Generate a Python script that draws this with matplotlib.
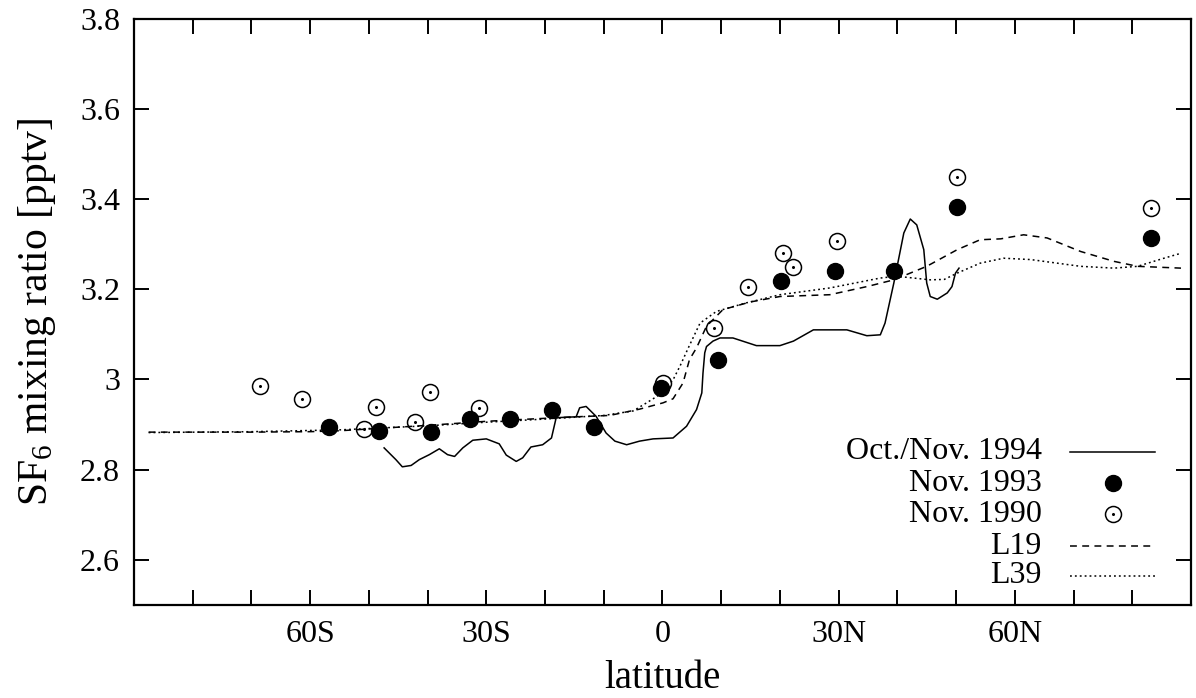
import matplotlib
matplotlib.use("Agg")
import matplotlib.pyplot as plt
from matplotlib.lines import Line2D

plt.rcParams['font.family'] = ['Liberation Serif', 'DejaVu Serif']
plt.rcParams['mathtext.default'] = 'regular'

# ---- data ----
obs94_lat = [-47.4, -45.4, -44.3, -42.8, -41.4, -39.7, -38.0, -36.6, -35.4, -34.0, -32.3, -30.0,
             -27.8, -26.6, -24.9, -23.8, -22.4, -20.4, -18.9, -18.1, -14.7, -14.1, -13.0, -11.3,
             -9.6, -8.1, -6.1, -3.9, -1.6, 1.8, 4.1, 5.8, 6.7, 6.9, 7.2, 7.5, 8.6, 9.8, 12.0,
             16.0, 20.0, 22.3, 25.7, 31.4, 34.8, 37.1, 37.9, 39.4, 41.1, 42.2, 43.3, 44.5, 45.0,
             45.6, 46.8, 48.5, 49.3, 49.9, 50.5]
obs94_val = [2.848, 2.822, 2.806, 2.809, 2.822, 2.833, 2.846, 2.833, 2.829, 2.848, 2.865, 2.868,
             2.857, 2.832, 2.818, 2.826, 2.850, 2.855, 2.870, 2.915, 2.917, 2.937, 2.940, 2.918,
             2.881, 2.863, 2.855, 2.863, 2.868, 2.870, 2.896, 2.933, 2.970, 3.014, 3.059, 3.073,
             3.085, 3.092, 3.092, 3.075, 3.075, 3.085, 3.110, 3.110, 3.097, 3.099, 3.125, 3.214,
             3.325, 3.356, 3.343, 3.288, 3.214, 3.184, 3.178, 3.192, 3.206, 3.236, 3.247]

obs93_lat = [-56.8, -48.2, -39.5, -32.8, -25.9, -18.8, -11.7, -0.2, 9.4, 20.2, 29.3, 39.5, 50.2, 83.2]
obs93_val = [2.895, 2.885, 2.884, 2.912, 2.912, 2.931, 2.895, 2.981, 3.042, 3.218, 3.241, 3.241, 3.382, 3.314]

obs90_lat = [-68.5, -61.3, -50.8, -48.8, -42.1, -39.6, -31.3, 0.1, 8.75, 14.6, 20.6, 22.2, 29.7, 50.2, 83.2]
obs90_val = [2.985, 2.957, 2.889, 2.938, 2.906, 2.971, 2.937, 2.992, 3.114, 3.206, 3.281, 3.249, 3.308, 3.449, 3.380]

l19_lat = [-87.5, -80, -70, -60, -55, -50, -40, -30, -22.6, -14.7, -9.0, -3.9, 0.1, 1.8, 3.5,
           4.6, 5.8, 7.5, 10.3, 15.0, 20.0, 28.5, 34.8, 39.4, 45.0, 50.2, 54.1, 57.6, 61.5,
           65.5, 71.2, 76.9, 80.9, 88.3]
l19_val = [2.883, 2.883, 2.883, 2.884, 2.886, 2.890, 2.898, 2.907, 2.912, 2.917, 2.920, 2.934,
           2.948, 2.957, 2.992, 3.044, 3.070, 3.118, 3.155, 3.172, 3.184, 3.188, 3.206, 3.221,
           3.251, 3.288, 3.310, 3.312, 3.321, 3.314, 3.284, 3.262, 3.251, 3.247]

l39_lat = [-87.5, -70, -55, -40, -30, -20, -10, -5, -2.7, -0.5, 1.8, 3.0, 4.4, 6.4, 9.2, 14.3,
           20.0, 28.5, 37.1, 39.9, 45.6, 48.0, 50.2, 54.1, 58.1, 62.7, 71.2, 76.9, 80.9, 85.4, 88.3]
l39_val = [2.882, 2.884, 2.888, 2.897, 2.905, 2.912, 2.920, 2.930, 2.948, 2.966, 2.999, 3.030,
           3.070, 3.125, 3.151, 3.170, 3.188, 3.203, 3.225, 3.229, 3.221, 3.222, 3.236, 3.258,
           3.269, 3.266, 3.251, 3.247, 3.251, 3.269, 3.280]

xtick_pos = [-80, -70, -60, -50, -40, -30, -20, -10, 0, 10, 20, 30, 40, 50, 60, 70, 80]
xtick_lab = ['', '', '60S', '', '', '30S', '', '', '0', '', '', '30N', '', '', '60N', '', '']
ytick_pos = [2.6, 2.8, 3.0, 3.2, 3.4, 3.6, 3.8]
ytick_lab = ['2.6', '2.8', '3', '3.2', '3.4', '3.6', '3.8']

legend_labels = ['Oct./Nov. 1994', 'Nov. 1993', 'Nov. 1990', 'L19', 'L39']

# ---- figure ----
fig = plt.figure(figsize=(11.96, 6.98), dpi=100)
ax = fig.add_axes([0.112, 0.1337, 0.8838, 0.8391])

lw = 1.1
dash19 = (0, (4.5, 3.5))
dot39 = (0, (1.2, 2.0))

ax.plot(obs94_lat, obs94_val, color='black', lw=lw)
ax.plot(l19_lat, l19_val, color='black', lw=lw, linestyle=dash19)
ax.plot(l39_lat, l39_val, color='black', lw=lw, linestyle=dot39)
ax.plot(obs93_lat, obs93_val, linestyle='none', marker='o', markersize=11.5,
        markerfacecolor='black', markeredgecolor='black')
ax.plot(obs90_lat, obs90_val, linestyle='none', marker='o', markersize=11.5,
        markerfacecolor='none', markeredgecolor='black', markeredgewidth=1.1)
ax.plot(obs90_lat, obs90_val, linestyle='none', marker='o', markersize=1.2,
        markerfacecolor='black', markeredgecolor='black')

ax.set_xlim(-90, 90)
ax.set_ylim(2.5, 3.8)
ax.set_xticks(xtick_pos)
ax.set_xticklabels(xtick_lab)
ax.set_yticks(ytick_pos)
ax.set_yticklabels(ytick_lab)
ax.tick_params(direction='in', length=11, width=1.4, labelsize=23,
               top=True, right=True)
ax.tick_params(axis='x', pad=11)
ax.tick_params(axis='y', pad=10)
for s in ax.spines.values():
    s.set_linewidth(1.6)

ax.set_xlabel('latitude', fontsize=28, labelpad=8)
ax.set_ylabel('SF$_6$ mixing ratio [pptv]', fontsize=30, labelpad=16)

# ---- legend (gnuplot style: right-aligned text, sample on the right) ----
rows_y = [0.261, 0.207, 0.154, 0.100, 0.049]
tx = 0.859
sx0, sx1 = 0.886, 0.966
sm = (sx0 + sx1) / 2
tr = ax.transAxes
for lab, yy in zip(legend_labels, rows_y):
    ax.text(tx, yy, lab, transform=tr, ha='right', va='center', fontsize=23)
ax.add_line(Line2D([sx0, sx1], [rows_y[0]] * 2, transform=tr, color='black', lw=lw))
ax.add_line(Line2D([sm], [rows_y[1]], transform=tr, marker='o', markersize=11.5,
                   markerfacecolor='black', markeredgecolor='black', linestyle='none'))
ax.add_line(Line2D([sm], [rows_y[2]], transform=tr, marker='o', markersize=11.5,
                   markerfacecolor='none', markeredgecolor='black', markeredgewidth=1.1,
                   linestyle='none'))
ax.add_line(Line2D([sm], [rows_y[2]], transform=tr, marker='o', markersize=1.2,
                   markerfacecolor='black', markeredgecolor='black', linestyle='none'))
ax.add_line(Line2D([sx0, sx1], [rows_y[3]] * 2, transform=tr, color='black', lw=lw,
                   linestyle=dash19))
ax.add_line(Line2D([sx0, sx1], [rows_y[4]] * 2, transform=tr, color='black', lw=lw,
                   linestyle=dot39))

fig.savefig('out.png', dpi=100)
